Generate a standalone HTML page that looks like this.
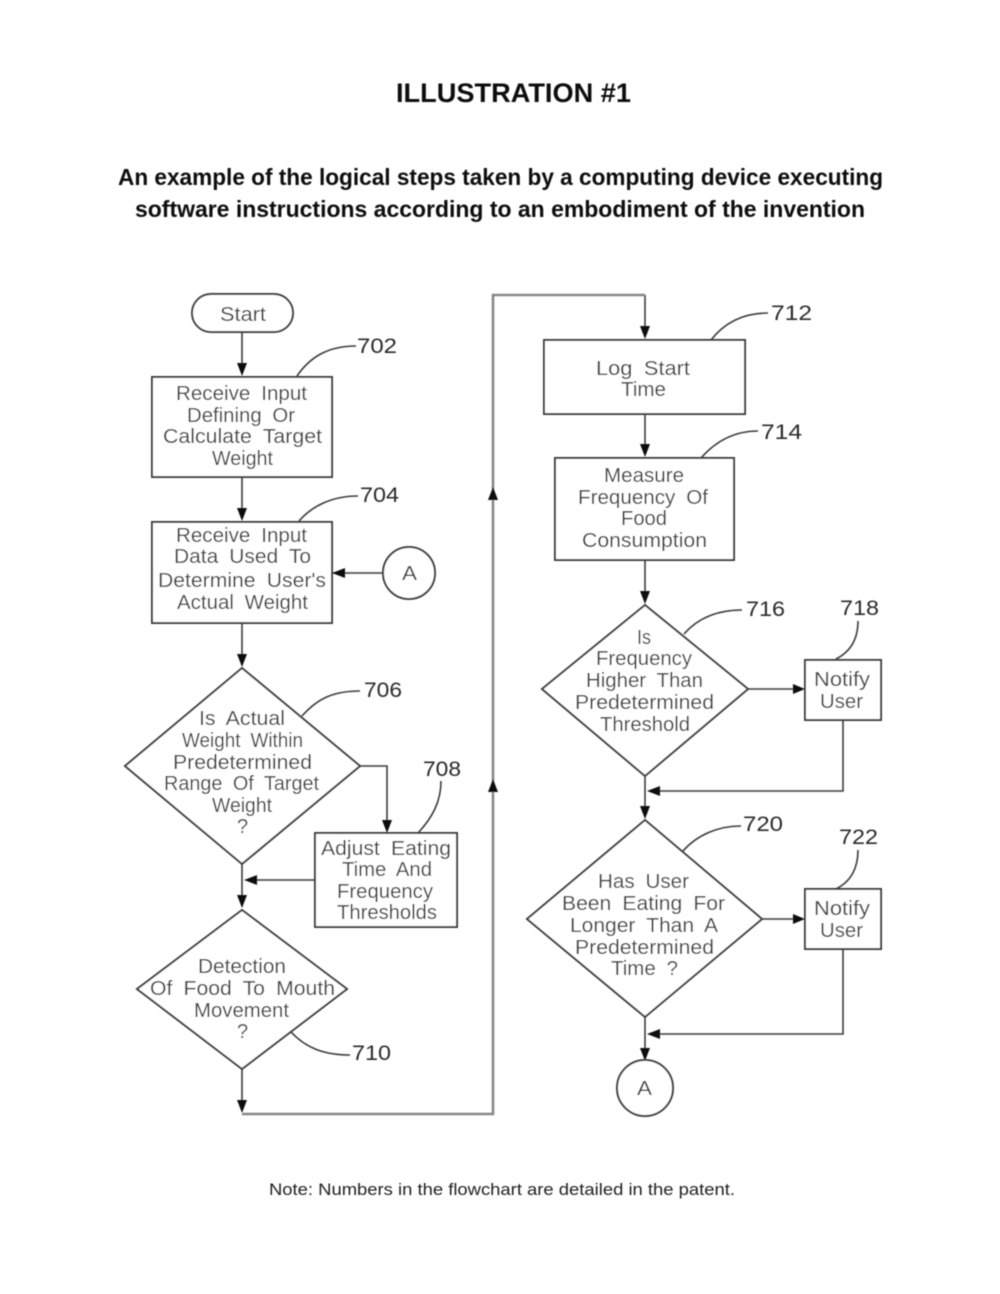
<!DOCTYPE html>
<html><head><meta charset="utf-8"><style>
html,body{margin:0;padding:0;background:#fff}
svg{display:block}
text{font-family:"Liberation Sans",sans-serif}
.h{font-weight:bold;fill:#0a0a0a}
.t{font-size:20px;fill:#3c3c3c;text-anchor:start;word-spacing:5px}
.n{font-size:21px;fill:#2c2c2c}
.s{fill:#fff;stroke:#3c3c3c;stroke-width:2}
.l{fill:none;stroke:#3c3c3c;stroke-width:1.6}
.g{fill:none;stroke:#888;stroke-width:2.6}
.a{fill:#111}
</style></head><body>
<svg width="1000" height="1294" viewBox="0 0 1000 1294" xmlns="http://www.w3.org/2000/svg">
<defs><filter id="b" x="-5%" y="-5%" width="110%" height="110%"><feGaussianBlur stdDeviation="0.4"/></filter></defs>
<rect width="1000" height="1294" fill="#fff"/>
<g filter="url(#b)">
<text class="h" x="396" y="102" font-size="27" textLength="235" lengthAdjust="spacingAndGlyphs">ILLUSTRATION #1</text>
<text class="h" x="118" y="185" font-size="23" textLength="765" lengthAdjust="spacingAndGlyphs">An example of the logical steps taken by a computing device executing</text>
<text class="h" x="135" y="217" font-size="23" textLength="730" lengthAdjust="spacingAndGlyphs">software instructions according to an embodiment of the invention</text>
<text x="269" y="1195" font-size="17" fill="#222" textLength="466" lengthAdjust="spacingAndGlyphs">Note: Numbers in the flowchart are detailed in the patent.</text>

<!-- connectors -->
<path class="l" d="M242 332V366M242 477V511M332 573H382M242 623V657M360 766H387V822M242 864V898M315 880H254M242 1069V1102M645 295V329M645 414V447M645 560V594M748 689H794M843 720V791H656M645 776V809M762 919H794M843 949V1034H656M645 1017V1050"/>
<path class="g" d="M242 1114H493V295H645"/>
<!-- arrowheads -->
<path class="a" d="M237 363H247L242 376ZM237 508H247L242 521ZM345 568V578L332 573ZM237 654H247L242 667ZM382 820H392L387 833ZM237 895H247L242 908ZM257 875V885L244 880ZM237 1100H247L242 1113ZM640 326H650L645 339ZM640 444H650L645 457ZM640 591H650L645 604ZM793 684V694L805 689ZM660 786V796L647 791ZM640 806H650L645 819ZM793 914V924L805 919ZM660 1029V1039L647 1034ZM640 1048H650L645 1061ZM488 500H498L493 487ZM488 792H498L493 779Z"/>
<!-- shapes -->
<rect class="s" x="192" y="294" width="101" height="38" rx="19"/>
<rect class="s" x="152" y="377" width="180" height="100"/>
<rect class="s" x="152" y="522" width="180" height="101"/>
<circle class="s" cx="409" cy="573" r="26"/>
<polygon class="s" points="242,668 360,766 242,864 125,766"/>
<rect class="s" x="315" y="833" width="142" height="94"/>
<polygon class="s" points="242,910 347,989 242,1069 137,989"/>
<rect class="s" x="544" y="340" width="201" height="74"/>
<rect class="s" x="555" y="458" width="179" height="102"/>
<polygon class="s" points="645,605 748,689 645,776 542,689"/>
<rect class="s" x="805" y="660" width="76" height="60"/>
<polygon class="s" points="645,820 762,919 645,1017 527,919"/>
<rect class="s" x="805" y="889" width="76" height="60"/>
<circle class="s" cx="645" cy="1088" r="28"/>
<!-- leaders -->
<path class="l" d="M297 376C310 357 328 346 356 346M299 521C312 506 332 496 358 496M302 716C318 698 334 691 360 691M418 833C432 818 441 802 441 781M291 1032C306 1048 324 1055 350 1055M711 340C725 322 744 313 768 313M701 458C715 442 734 431 758 431M684 634C698 618 718 610 742 610M836 659C850 652 858 640 858 621M683 851C697 835 718 826 741 826M836 889C850 882 858 870 858 850"/>
<!-- labels -->
<g class="t">
<text x="220" y="321" textLength="46" lengthAdjust="spacingAndGlyphs">Start</text>
<text x="176" y="400" textLength="131" lengthAdjust="spacingAndGlyphs">Receive Input</text>
<text x="187" y="422" textLength="108" lengthAdjust="spacingAndGlyphs">Defining Or</text>
<text x="163" y="443" textLength="159" lengthAdjust="spacingAndGlyphs">Calculate Target</text>
<text x="212" y="465" textLength="61" lengthAdjust="spacingAndGlyphs">Weight</text>
<text x="176" y="542" textLength="131" lengthAdjust="spacingAndGlyphs">Receive Input</text>
<text x="174" y="563" textLength="137" lengthAdjust="spacingAndGlyphs">Data Used To</text>
<text x="158" y="587" textLength="168" lengthAdjust="spacingAndGlyphs">Determine User's</text>
<text x="177" y="609" textLength="131" lengthAdjust="spacingAndGlyphs">Actual Weight</text>
<text x="402" y="580" textLength="15" lengthAdjust="spacingAndGlyphs">A</text>
<text x="199" y="725" textLength="86" lengthAdjust="spacingAndGlyphs">Is Actual</text>
<text x="182" y="747" textLength="121" lengthAdjust="spacingAndGlyphs">Weight Within</text>
<text x="173" y="769" textLength="139" lengthAdjust="spacingAndGlyphs">Predetermined</text>
<text x="164" y="790" textLength="155" lengthAdjust="spacingAndGlyphs">Range Of Target</text>
<text x="212" y="812" textLength="60" lengthAdjust="spacingAndGlyphs">Weight</text>
<text x="237" y="833">?</text>
<text x="321" y="855" textLength="130" lengthAdjust="spacingAndGlyphs">Adjust Eating</text>
<text x="342" y="876" textLength="90" lengthAdjust="spacingAndGlyphs">Time And</text>
<text x="337" y="898" textLength="96" lengthAdjust="spacingAndGlyphs">Frequency</text>
<text x="337" y="919" textLength="100" lengthAdjust="spacingAndGlyphs">Thresholds</text>
<text x="198" y="973" textLength="88" lengthAdjust="spacingAndGlyphs">Detection</text>
<text x="150" y="995" textLength="185" lengthAdjust="spacingAndGlyphs">Of Food To Mouth</text>
<text x="194" y="1017" textLength="95" lengthAdjust="spacingAndGlyphs">Movement</text>
<text x="237" y="1038">?</text>
<text x="596" y="375" textLength="94" lengthAdjust="spacingAndGlyphs">Log Start</text>
<text x="621" y="396" textLength="45" lengthAdjust="spacingAndGlyphs">Time</text>
<text x="604" y="482" textLength="80" lengthAdjust="spacingAndGlyphs">Measure</text>
<text x="578" y="504" textLength="130" lengthAdjust="spacingAndGlyphs">Frequency Of</text>
<text x="621" y="525" textLength="46" lengthAdjust="spacingAndGlyphs">Food</text>
<text x="582" y="547" textLength="125" lengthAdjust="spacingAndGlyphs">Consumption</text>
<text x="637" y="644" textLength="14" lengthAdjust="spacingAndGlyphs">Is</text>
<text x="596" y="665" textLength="96" lengthAdjust="spacingAndGlyphs">Frequency</text>
<text x="586" y="687" textLength="117" lengthAdjust="spacingAndGlyphs">Higher Than</text>
<text x="575" y="709" textLength="139" lengthAdjust="spacingAndGlyphs">Predetermined</text>
<text x="600" y="731" textLength="90" lengthAdjust="spacingAndGlyphs">Threshold</text>
<text x="814" y="686" textLength="56" lengthAdjust="spacingAndGlyphs">Notify</text>
<text x="820" y="708" textLength="43" lengthAdjust="spacingAndGlyphs">User</text>
<text x="598" y="888" textLength="91" lengthAdjust="spacingAndGlyphs">Has User</text>
<text x="562" y="910" textLength="163" lengthAdjust="spacingAndGlyphs">Been Eating For</text>
<text x="570" y="932" textLength="148" lengthAdjust="spacingAndGlyphs">Longer Than A</text>
<text x="575" y="954" textLength="139" lengthAdjust="spacingAndGlyphs">Predetermined</text>
<text x="611" y="975" textLength="67" lengthAdjust="spacingAndGlyphs">Time ?</text>
<text x="814" y="915" textLength="56" lengthAdjust="spacingAndGlyphs">Notify</text>
<text x="820" y="937" textLength="43" lengthAdjust="spacingAndGlyphs">User</text>
<text x="637" y="1095" textLength="15" lengthAdjust="spacingAndGlyphs">A</text>
</g>
<g class="n">
<text x="357" y="353" textLength="40" lengthAdjust="spacingAndGlyphs">702</text>
<text x="360" y="502" textLength="39" lengthAdjust="spacingAndGlyphs">704</text>
<text x="364" y="697" textLength="38" lengthAdjust="spacingAndGlyphs">706</text>
<text x="423" y="776" textLength="38" lengthAdjust="spacingAndGlyphs">708</text>
<text x="352" y="1060" textLength="39" lengthAdjust="spacingAndGlyphs">710</text>
<text x="771" y="320" textLength="41" lengthAdjust="spacingAndGlyphs">712</text>
<text x="761" y="439" textLength="41" lengthAdjust="spacingAndGlyphs">714</text>
<text x="746" y="616" textLength="39" lengthAdjust="spacingAndGlyphs">716</text>
<text x="840" y="615" textLength="39" lengthAdjust="spacingAndGlyphs">718</text>
<text x="743" y="831" textLength="40" lengthAdjust="spacingAndGlyphs">720</text>
<text x="839" y="844" textLength="39" lengthAdjust="spacingAndGlyphs">722</text>
</g>
</g>
</svg>
</body></html>
